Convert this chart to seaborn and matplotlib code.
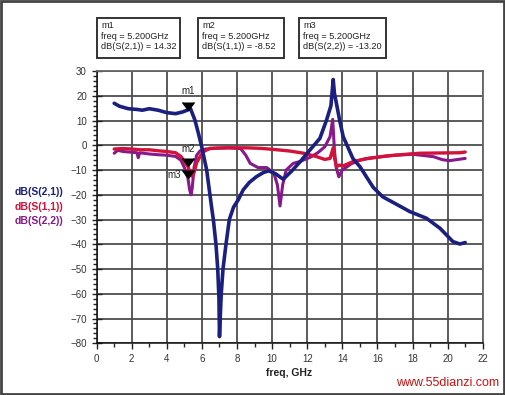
import pandas as pd
import numpy as np
import matplotlib.pyplot as plt
import seaborn as sns
from matplotlib.patches import Rectangle
from matplotlib.ticker import MultipleLocator

sns.set_style('white')
plt.rcParams['font.family'] = ['Liberation Sans', 'DejaVu Sans']

#%% Data
f_s21 = [1.0, 1.3, 1.8, 2.3, 2.6, 3.0, 3.5, 4.0, 4.5, 4.9, 5.2, 5.35, 5.6, 5.8, 6.0, 6.27, 6.55,
         6.65, 6.8, 6.9, 6.97, 7.0, 7.04, 7.1, 7.2, 7.37, 7.56, 7.8, 8.07, 8.35, 8.7, 9.1, 9.5,
         9.8, 10.2, 10.63, 11.1, 11.6, 12.2, 12.72, 13.1, 13.35, 13.48, 13.55, 13.7, 13.85, 14.05,
         14.6, 15.0, 15.76, 16.3, 17.0, 17.85, 18.8, 19.56, 20.3, 20.7, 21.0]
s21 = [17.0, 15.8, 14.8, 14.5, 14.2, 14.8, 14.2, 13.2, 12.8, 13.5, 14.32, 14.8, 10.2, 4.8, -1.0,
       -10.0, -25.0, -30.0, -40.0, -50.0, -62.0, -77.3, -70.0, -60.0, -50.0, -40.0, -30.0, -25.0,
       -22.0, -18.0, -15.0, -12.7, -11.0, -10.3, -11.5, -13.7, -10.5, -6.6, -1.5, 2.8, 10.2, 16.0,
       26.6, 21.0, 15.6, 10.0, 3.5, -5.3, -8.6, -17.0, -20.8, -23.5, -26.8, -29.5, -33.5, -38.9,
       -39.9, -39.3]

f_s11 = [1.0, 1.5, 2.0, 2.5, 3.0, 3.5, 4.0, 4.5, 4.8, 5.0, 5.2, 5.35, 5.45, 5.55, 5.7, 5.89,
         6.1, 6.46, 6.8, 7.5, 8.5, 9.3, 10.0, 11.0, 11.8, 12.5, 13.0, 13.3, 13.48, 13.55, 13.67,
         13.85, 14.05, 14.6, 15.3, 16.5, 17.5, 18.4, 19.5, 20.7, 21.0]
s11 = [-1.5, -1.3, -1.5, -1.8, -1.8, -2.2, -2.5, -3.0, -4.5, -6.5, -8.52, -11.5, -12.5, -11.0,
       -7.0, -4.6, -2.5, -1.2, -1.1, -1.0, -1.0, -1.2, -1.6, -2.3, -3.2, -4.5, -5.7, -5.3, -1.0,
       -5.0, -8.6, -8.0, -8.3, -6.6, -5.5, -4.3, -3.7, -3.2, -3.1, -3.0, -2.7]

f_s22 = [1.0, 1.2, 1.5, 2.0, 2.3, 2.37, 2.45, 3.0, 3.5, 4.0, 4.5, 4.8, 5.0, 5.2, 5.3, 5.38,
         5.45, 5.55, 5.7, 5.9, 6.2, 6.8, 7.5, 8.2, 8.5, 8.75, 9.2, 9.7, 10.1, 10.3, 10.45, 10.6,
         10.8, 11.2, 11.6, 12.15, 12.6, 13.0, 13.3, 13.45, 13.55, 13.65, 13.8, 14.0, 14.5, 15.0,
         15.5, 16.0, 17.0, 18.0, 19.2, 19.7, 20.1, 20.5, 21.0]
s22 = [-3.2, -2.0, -2.5, -2.8, -3.0, -5.0, -3.0, -3.5, -3.8, -4.0, -4.5, -6.0, -9.0, -13.2,
       -18.0, -20.0, -17.0, -9.0, -4.0, -2.2, -1.5, -1.2, -1.0, -1.3, -4.0, -7.3, -9.0, -9.0,
       -11.3, -16.0, -24.5, -16.0, -10.0, -7.3, -6.5, -4.9, -3.0, -0.6, 3.5, 10.5, -2.0, -9.0,
       -12.7, -10.0, -7.5, -6.0, -5.2, -4.8, -4.0, -3.6, -4.6, -5.8, -6.2, -5.8, -5.3]

names = ['dB(S(2,1))', 'dB(S(1,1))', 'dB(S(2,2))']
colors = ['#1a1f80', '#d3113a', '#87198a']

markers = ['m1', 'm2', 'm3']
m_freq = 5.2
m_vals = [14.32, -8.52, -13.20]

df = pd.concat([
    pd.DataFrame({'freq': f_s21, 'dB': s21, 'trace': names[0]}),
    pd.DataFrame({'freq': f_s11, 'dB': s11, 'trace': names[1]}),
    pd.DataFrame({'freq': f_s22, 'dB': s22, 'trace': names[2]}),
])

#%% Plot
fig = plt.figure(figsize=(5.06, 3.95), dpi=100)
ax = fig.add_axes([0.191, 0.131, 0.763, 0.689])

# purple under red under blue
for name, col, lw, z in [(names[2], colors[2], 2.2, 2), (names[1], colors[1], 2.4, 3), (names[0], colors[0], 2.6, 4)]:
    sub = df[df['trace'] == name]
    sns.lineplot(data=sub, x='freq', y='dB', color=col, linewidth=lw, estimator=None,
                 sort=False, ax=ax, zorder=z)

ax.set_xlim(0, 22)
ax.set_ylim(-80, 30)
ax.xaxis.set_major_locator(MultipleLocator(2))
ax.xaxis.set_minor_locator(MultipleLocator(1))
ax.yaxis.set_major_locator(MultipleLocator(10))
ax.yaxis.set_minor_locator(MultipleLocator(2))
ax.grid(True, which='major', color='#4d4d4d', linewidth=1.3)
ax.set_axisbelow(True)
ax.tick_params(axis='both', which='major', labelsize=7, labelcolor='#333333', color='#222222')
ax.tick_params(axis='x', which='major', direction='out', length=4, width=1, bottom=True)
ax.tick_params(axis='x', which='minor', direction='out', length=3, width=1, bottom=True)
ax.tick_params(axis='y', which='major', direction='inout', length=7, width=1, left=True)
ax.tick_params(axis='y', which='minor', direction='out', length=3, width=1, left=True)
for s in ['top', 'right']:
    ax.spines[s].set_color('#666666')
    ax.spines[s].set_linewidth(1.3)
for s in ['left', 'bottom']:
    ax.spines[s].set_color('#111111')
    ax.spines[s].set_linewidth(1.1)
ax.set_xlabel('')
ax.set_ylabel('')

# markers
offsets = [(0, 10, 'center', 'bottom'), (0, 9, 'center', 'bottom'), (-5, 2, 'right', 'center')]
for lab, v, (dx, dy, ha, va) in zip(markers, m_vals, offsets):
    ax.plot([m_freq], [v], marker=7, markersize=8, color='black', zorder=6)
    ax.annotate(lab, (m_freq, v), xytext=(dx, dy), textcoords='offset points',
                ha=ha, va=va, fontsize=7, color='#222222', zorder=7)

# marker readout boxes
boxes = [(97, 198, 299), (83, 86, 87)]
readouts = [
    ['m1', 'freq = 5.200GHz', 'dB(S(2,1)) = 14.32'],
    ['m2', 'freq = 5.200GHz', 'dB(S(1,1)) = -8.52'],
    ['m3', 'freq = 5.200GHz', 'dB(S(2,2)) = -13.20'],
]
W, H = 506, 395
for x0, w, lines in zip(boxes[0], boxes[1], readouts):
    fig.patches.append(Rectangle((x0 / W, 1 - 57.5 / H), w / W, 40 / H, transform=fig.transFigure,
                                 fill=False, edgecolor='#333333', linewidth=1.4))
    for i, t in enumerate(lines):
        fig.text((x0 + 4) / W, 1 - (25.5 + 10.7 * i) / H, t, fontsize=6.6, color='#222222',
                 ha='left', va='center')

# trace names on the left
for i, (n, c) in enumerate(zip(names, colors)):
    fig.text(15 / W, 1 - (192.5 + 14.5 * i) / H, n, fontsize=7.5, fontweight='bold', color=c,
             ha='left', va='center')

fig.text(266 / W, 1 - 373.5 / H, 'freq, GHz', fontsize=7.5, fontweight='bold', color='#222222',
         ha='left', va='center')
fig.text(499 / W, 1 - 382.5 / H, 'www.55dianzi.com', fontsize=9, color='#cc1111',
         ha='right', va='center')

# outer frame
fig.patches.append(Rectangle((0.002, 0.003), 0.994, 0.994, transform=fig.transFigure,
                             fill=False, edgecolor='#444444', linewidth=2))

plt.savefig('out.png', dpi=100)
